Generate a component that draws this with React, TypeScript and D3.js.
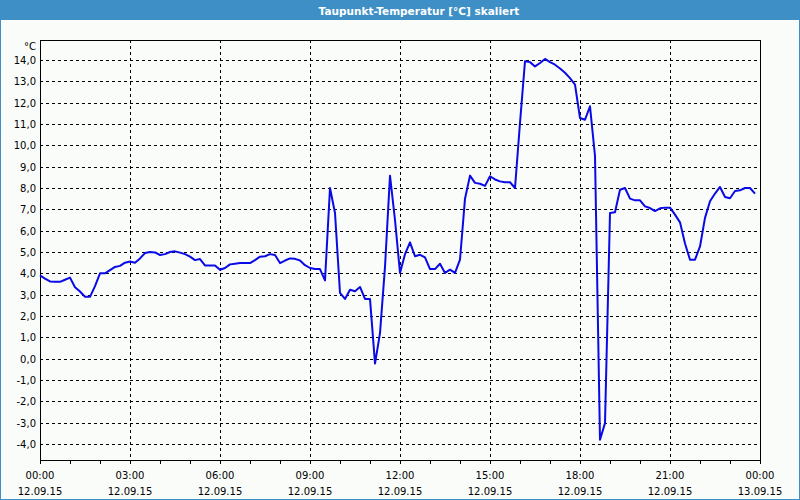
import React from "react";
import * as d3 from "d3";

const title = "Taupunkt-Temperatur [°C] skaliert";
const unitLabel = "°C";
const startTime = new Date(2015, 8, 12, 0, 0);
const endTime = new Date(2015, 8, 13, 0, 0);
const stepMinutes = 10;
const yTicks = [-4, -3, -2, -1, 0, 1, 2, 3, 4, 5, 6, 7, 8, 9, 10, 11, 12, 13, 14];
const dewPoint = [
  3.9, 3.75, 3.62, 3.6, 3.6, 3.7, 3.8, 3.35, 3.15, 2.9,
  2.9, 3.4, 4.0, 4.0, 4.15, 4.3, 4.35, 4.5, 4.55, 4.5,
  4.7, 4.95, 5.0, 4.98, 4.86, 4.9, 5.0, 5.03, 4.97, 4.9,
  4.78, 4.62, 4.67, 4.37, 4.37, 4.37, 4.17, 4.25, 4.42, 4.45,
  4.48, 4.48, 4.48, 4.62, 4.78, 4.8, 4.9, 4.86, 4.48, 4.6,
  4.7, 4.68, 4.6, 4.38, 4.25, 4.2, 4.2, 3.67, 8.0, 6.83,
  3.08, 2.8, 3.23, 3.16, 3.36, 2.8, 2.8, -0.23, 1.2, 4.3,
  8.58, 6.5, 4.02, 4.9, 5.45, 4.8, 4.87, 4.75, 4.2, 4.2,
  4.45, 4.02, 4.17, 4.02, 4.64, 7.5, 8.58, 8.24, 8.2, 8.1,
  8.55, 8.4, 8.31, 8.27, 8.27, 8.0, 11.05, 13.94, 13.9, 13.7,
  13.86, 14.05, 13.9, 13.78, 13.6, 13.4, 13.15, 12.85, 11.28, 11.2,
  11.83, 9.5, -3.8, -3.02, 6.83, 6.86, 7.92, 8.0, 7.5, 7.42,
  7.42, 7.14, 7.06, 6.92, 7.05, 7.08, 7.08, 6.75, 6.39, 5.4,
  4.64, 4.64, 5.26, 6.6, 7.38, 7.74, 8.05, 7.58, 7.52, 7.86,
  7.89, 8.0, 8.0, 7.74,
];

const W = 800;
const H = 500;
const left = 40;
const right = 760;
const top = 40;
const bottom = 460;
const font = "DejaVu Sans, Verdana, sans-serif";

export default function App() {
  const x = d3.scaleTime().domain([startTime, endTime]).range([left, right]);
  const y = d3.scaleLinear().domain([-4.75, 14.9375]).range([bottom, top]);
  const data = dewPoint.map((v, i) => ({
    t: new Date(startTime.getTime() + i * stepMinutes * 60000),
    v,
  }));
  const line = d3
    .line<{ t: Date; v: number }>()
    .x((d) => x(d.t))
    .y((d) => y(d.v));
  const majorTicks = x.ticks(d3.timeHour.every(3)!);
  const minorTicks = x.ticks(d3.timeHour.every(1)!);
  const fmtTime = d3.timeFormat("%H:%M");
  const fmtDate = d3.timeFormat("%d.%m.%y");
  const fmtY = (v: number) => v.toFixed(1).replace(".", ",");

  return (
    <svg
      width={W}
      height={H}
      style={{ position: "absolute", left: 0, top: 0, display: "block" }}
      fontFamily={font}
    >
      <rect x={0} y={0} width={W} height={H} fill="#fafcfa" />
      <rect x={0} y={0} width={W} height={20} fill="#3d8fc6" />
      <rect x={0.5} y={0.5} width={W - 1} height={H - 1} fill="none" stroke="#3d8fc6" strokeWidth={1} />
      <text x={419} y={14.5} textAnchor="middle" fill="#ffffff" fontSize={10.5} fontWeight="bold">
        {title}
      </text>

      {yTicks.map((v) => (
        <g key={"y" + v}>
          <line
            x1={left}
            x2={right}
            y1={Math.round(y(v)) + 0.5}
            y2={Math.round(y(v)) + 0.5}
            stroke="#000"
            strokeDasharray="3,3"
            shapeRendering="crispEdges"
          />
          <text x={36} y={y(v) + 4} textAnchor="end" fontSize={10} fill="#000">
            {fmtY(v)}
          </text>
        </g>
      ))}
      <text x={36} y={50} textAnchor="end" fontSize={10} fill="#000">
        {unitLabel}
      </text>

      {majorTicks
        .filter((t) => t > startTime && t < endTime)
        .map((t) => (
          <line
            key={"v" + t.getTime()}
            x1={Math.round(x(t)) + 0.5}
            x2={Math.round(x(t)) + 0.5}
            y1={top}
            y2={bottom}
            stroke="#000"
            strokeDasharray="3,3"
            shapeRendering="crispEdges"
          />
        ))}

      {minorTicks.map((t) => (
        <line
          key={"m" + t.getTime()}
          x1={Math.round(x(t)) + 0.5}
          x2={Math.round(x(t)) + 0.5}
          y1={bottom}
          y2={bottom + 4}
          stroke="#000"
          shapeRendering="crispEdges"
        />
      ))}

      {majorTicks.map((t) => (
        <g key={"l" + t.getTime()}>
          <text x={x(t)} y={479} textAnchor="middle" fontSize={10} fill="#000">
            {fmtTime(t)}
          </text>
          <text x={x(t)} y={495} textAnchor="middle" fontSize={10} fill="#000">
            {fmtDate(t)}
          </text>
        </g>
      ))}

      <rect
        x={left + 0.5}
        y={top + 0.5}
        width={right - left}
        height={bottom - top}
        fill="none"
        stroke="#000"
        strokeWidth={1}
        shapeRendering="crispEdges"
      />

      <path d={line(data) || ""} fill="none" stroke="#0a0ae6" strokeWidth={2} strokeLinejoin="round" />
    </svg>
  );
}
